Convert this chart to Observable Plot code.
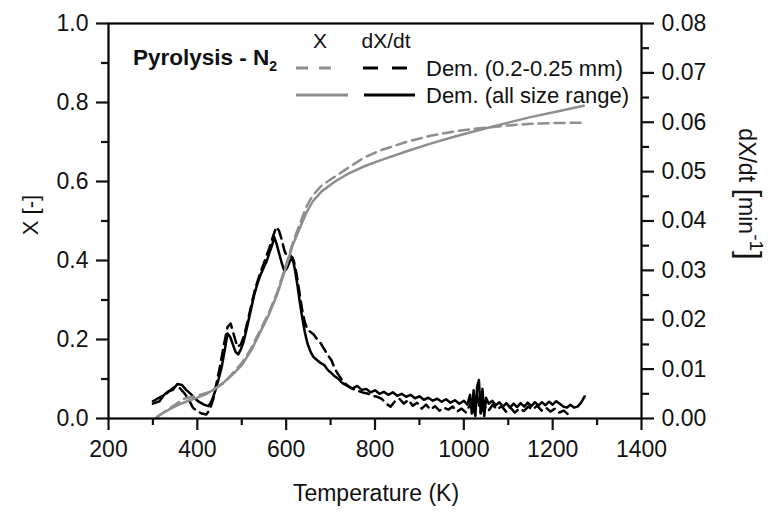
<!DOCTYPE html>
<html>
<head>
<meta charset="utf-8">
<script src="https://cdn.jsdelivr.net/npm/d3@7"></script>
<script src="https://cdn.jsdelivr.net/npm/@observablehq/plot@0.6"></script>
<style>
  html, body { margin: 0; padding: 0; background: #fff; }
  #chart svg { display: block; }
</style>
</head>
<body>
<div id="chart"></div>
<script>
// Temperature (K) and conversion X [-], Dem. (all size range)
const tempXAll = [305,320,340,360,380,400,420,440,460,480,500,520,540,560,580,600,615,630,645,660,680,710,740,775,810,870,925,980,1037,1100,1150,1210,1270];
const xAll     = [0.0,0.012,0.025,0.036,0.045,0.053,0.062,0.075,0.092,0.112,0.135,0.17,0.215,0.26,0.315,0.385,0.44,0.48,0.52,0.55,0.575,0.60,0.62,0.638,0.653,0.676,0.696,0.714,0.731,0.749,0.763,0.777,0.792];

// Conversion X [-], Dem. (0.2-0.25 mm)
const tempXSmall = [310,330,350,370,400,430,460,480,500,520,540,560,580,600,615,630,645,660,680,700,740,775,810,870,925,980,1037,1100,1150,1210,1270];
const xSmall     = [0.005,0.02,0.035,0.05,0.058,0.068,0.09,0.115,0.14,0.175,0.22,0.265,0.32,0.39,0.445,0.49,0.535,0.565,0.59,0.605,0.635,0.66,0.678,0.70,0.716,0.727,0.735,0.742,0.746,0.748,0.749];

// dX/dt [min^-1], Dem. (all size range)
const tempRAll = [300,306,315,325,335,345,355,365,375,385,395,405,415,425,432,440,448,455,462,468,474,480,486,492,498,504,512,520,528,535,542,549,556,562,568,573,578,584,590,596,602,608,614,619,625,630,636,642,648,655,662,670,678,686,694,702,710,718,726,734,742,750,760,770,780,790,800,810,820,830,840,850,860,870,880,890,900,910,920,930,940,950,960,970,980,990,1000,1008,1014,1018,1022,1026,1030,1034,1038,1042,1046,1050,1056,1064,1072,1080,1088,1096,1104,1112,1120,1128,1136,1144,1152,1160,1168,1176,1184,1192,1200,1208,1216,1224,1232,1240,1248,1256,1264,1272];
const rAll     = [0.0030,0.0032,0.0035,0.0048,0.0055,0.0058,0.0070,0.0068,0.0058,0.0050,0.0040,0.0033,0.0028,0.0025,0.0035,0.0055,0.0080,0.0105,0.0140,0.0172,0.0165,0.0150,0.0135,0.0130,0.0140,0.0155,0.0185,0.0218,0.0250,0.0272,0.0290,0.0305,0.0318,0.0335,0.0350,0.0368,0.0355,0.0335,0.0315,0.0298,0.0305,0.0318,0.0326,0.0305,0.0272,0.0240,0.0205,0.0175,0.0152,0.0135,0.0124,0.0118,0.0112,0.0108,0.0098,0.0092,0.0085,0.0080,0.0072,0.0068,0.0064,0.0061,0.0066,0.0058,0.0060,0.0053,0.0057,0.0050,0.0054,0.0048,0.0053,0.0046,0.0050,0.0044,0.0048,0.0041,0.0045,0.0038,0.0042,0.0036,0.0040,0.0034,0.0039,0.0032,0.0037,0.0030,0.0036,0.0028,0.0048,0.0010,0.0057,0.0005,0.0065,0.0078,0.0010,0.0060,0.0005,0.0042,0.0030,0.0036,0.0027,0.0033,0.0024,0.0031,0.0022,0.0030,0.0023,0.0031,0.0024,0.0032,0.0025,0.0033,0.0026,0.0033,0.0027,0.0034,0.0028,0.0035,0.0030,0.0024,0.0022,0.0028,0.0022,0.0024,0.0032,0.0045];

// dX/dt [min^-1], Dem. (0.2-0.25 mm)
const tempRSmall = [300,310,320,330,340,350,360,370,380,390,400,410,420,428,436,444,452,460,468,475,482,490,498,506,514,522,530,538,546,554,562,570,578,584,590,596,602,610,617,624,630,636,642,648,655,662,670,678,686,694,702,710,718,726,734,745,755,765,775,785,795,805,815,825,835,845,855,865,875,885,895,905,915,925,935,945,955,965,975,985,995,1005,1015,1022,1030,1038,1046,1055,1065,1075,1085,1095,1105,1115,1125,1135,1145,1155,1165,1175,1185,1195,1205,1215,1225,1235,1242];
const rSmall     = [0.0035,0.0040,0.0045,0.0050,0.0058,0.0065,0.0062,0.0052,0.0040,0.0022,0.0015,0.0010,0.0008,0.0018,0.0040,0.0075,0.0110,0.0150,0.0185,0.0192,0.0170,0.0145,0.0150,0.0170,0.0200,0.0232,0.0262,0.0285,0.0305,0.0325,0.0345,0.0368,0.0388,0.0380,0.0362,0.0340,0.0328,0.0330,0.0320,0.0290,0.0255,0.0220,0.0195,0.0180,0.0175,0.0170,0.0160,0.0152,0.0140,0.0128,0.0118,0.0100,0.0088,0.0078,0.0070,0.0062,0.0058,0.0055,0.0052,0.0050,0.0046,0.0044,0.0040,0.0030,0.0024,0.0035,0.0040,0.0030,0.0038,0.0026,0.0032,0.0020,0.0028,0.0018,0.0025,0.0016,0.0022,0.0018,0.0024,0.0014,0.0020,0.0012,0.0030,0.0010,0.0045,0.0012,0.0025,0.0015,0.0028,0.0018,0.0025,0.0014,0.0022,0.0012,0.0020,0.0015,0.0024,0.0018,0.0026,0.0016,0.0022,0.0014,0.0020,0.0012,0.0016,0.0008,0.0010];

const xTicks = [200,400,600,800,1000,1200,1400];
const xMinor = [300,500,700,900,1100,1300];
const yTicks = [0,0.2,0.4,0.6,0.8,1.0];
const yMinor = [0.1,0.3,0.5,0.7,0.9];
const rTicks = [0,0.01,0.02,0.03,0.04,0.05,0.06,0.07,0.08];
const rMinor = [0.005,0.015,0.025,0.035,0.045,0.055,0.065,0.075];
const rMax = 0.08;

const toRows = (t, v) => t.map((d, i) => ({t: d, v: v[i]}));
const rowsXAll = toRows(tempXAll, xAll);
const rowsXSmall = toRows(tempXSmall, xSmall);
const rowsRAll = toRows(tempRAll, rAll.map(v => v / rMax));
const rowsRSmall = toRows(tempRSmall, rSmall.map(v => v / rMax));

const GRAY = "#8e8e8e";
const FONT = "'Liberation Sans', Arial, sans-serif";
const FS = 23;

const chart = Plot.plot({
  width: 770,
  height: 513,
  marginLeft: 108,
  marginRight: 129,
  marginTop: 23,
  marginBottom: 95,
  style: {fontFamily: FONT, fontSize: FS + "px", color: "#111", background: "#fff"},
  x: {domain: [200, 1400]},
  y: {domain: [0, 1]},
  marks: [
    Plot.line(rowsRSmall, {x: "t", y: "v", stroke: "#000", strokeWidth: 2.5, strokeDasharray: "10,6"}),
    Plot.line(rowsRAll, {x: "t", y: "v", stroke: "#000", strokeWidth: 2.5}),
    Plot.line(rowsXSmall, {x: "t", y: "v", stroke: GRAY, strokeWidth: 2.5, strokeDasharray: "10,6"}),
    Plot.line(rowsXAll, {x: "t", y: "v", stroke: GRAY, strokeWidth: 2.5}),
    Plot.frame({stroke: "#000", strokeWidth: 2.2}),
    Plot.axisX({ticks: xTicks, tickSize: 12, tickPadding: 10, strokeWidth: 2.2, label: null, fontSize: FS, tickFormat: d => String(d)}),
    Plot.axisX({ticks: xMinor, tickSize: 7, strokeWidth: 2.2, label: null, tickFormat: () => ""}),
    Plot.axisY({ticks: yTicks, tickSize: 12, tickPadding: 8, strokeWidth: 2.2, label: null, fontSize: FS, tickFormat: d => d.toFixed(1)}),
    Plot.axisY({ticks: yMinor, tickSize: 7, strokeWidth: 2.2, label: null, tickFormat: () => ""}),
    Plot.axisY({anchor: "right", ticks: rTicks.map(v => v / rMax), tickSize: 12, tickPadding: 8, strokeWidth: 2.2, label: null, fontSize: FS, tickFormat: (d, i) => rTicks[i].toFixed(2)}),
    Plot.axisY({anchor: "right", ticks: rMinor.map(v => v / rMax), tickSize: 7, strokeWidth: 2.2, label: null, tickFormat: () => ""})
  ]
});

document.getElementById("chart").appendChild(chart);

// Annotations, axis titles and legend
const svg = d3.select(chart);
const g = svg.append("g").attr("font-family", FONT).attr("fill", "#111").attr("text-anchor", "start");

g.append("text").attr("x", 376).attr("y", 501).attr("text-anchor", "middle").attr("font-size", FS).text("Temperature (K)");
g.append("text").attr("transform", "translate(38,215) rotate(-90)").attr("text-anchor", "middle").attr("font-size", 22).text("X [-]");

const rl = g.append("text").attr("transform", "translate(739,194) rotate(90)").attr("text-anchor", "middle").attr("font-size", 23);
rl.append("tspan").text("dX/dt ");
rl.append("tspan").attr("font-size", 31).text("[");
rl.append("tspan").text("min");
rl.append("tspan").attr("dy", -11).attr("font-size", 19).text("-1");
rl.append("tspan").attr("dy", 11).attr("font-size", 31).text("]");

const t1 = g.append("text").attr("x", 133).attr("y", 65).attr("font-size", 22.5).attr("font-weight", "bold");
t1.append("tspan").text("Pyrolysis - N");
t1.append("tspan").attr("dy", 6).attr("font-size", 14).text("2");

g.append("text").attr("x", 320).attr("y", 48).attr("text-anchor", "middle").attr("font-size", 21).text("X");
g.append("text").attr("x", 386).attr("y", 48).attr("text-anchor", "middle").attr("font-size", 21).text("dX/dt");

const legendRows = [
  {label: "Dem. (0.2-0.25 mm)", dashed: true, y: 68},
  {label: "Dem. (all size range)", dashed: false, y: 95}
];
legendRows.forEach(r => {
  if (r.dashed) {
    g.append("line").attr("x1", 296).attr("x2", 331).attr("y1", r.y).attr("y2", r.y)
      .attr("stroke", GRAY).attr("stroke-width", 2.8).attr("stroke-dasharray", "12,11");
    g.append("line").attr("x1", 363).attr("x2", 407).attr("y1", r.y).attr("y2", r.y)
      .attr("stroke", "#000").attr("stroke-width", 2.8).attr("stroke-dasharray", "15,14");
  } else {
    g.append("line").attr("x1", 296).attr("x2", 348).attr("y1", r.y).attr("y2", r.y)
      .attr("stroke", GRAY).attr("stroke-width", 2.8);
    g.append("line").attr("x1", 364).attr("x2", 415).attr("y1", r.y).attr("y2", r.y)
      .attr("stroke", "#000").attr("stroke-width", 2.8);
  }
  g.append("text").attr("x", 426).attr("y", r.y + 8).attr("text-anchor", "start").attr("font-size", 22).text(r.label);
});
</script>
</body>
</html>
